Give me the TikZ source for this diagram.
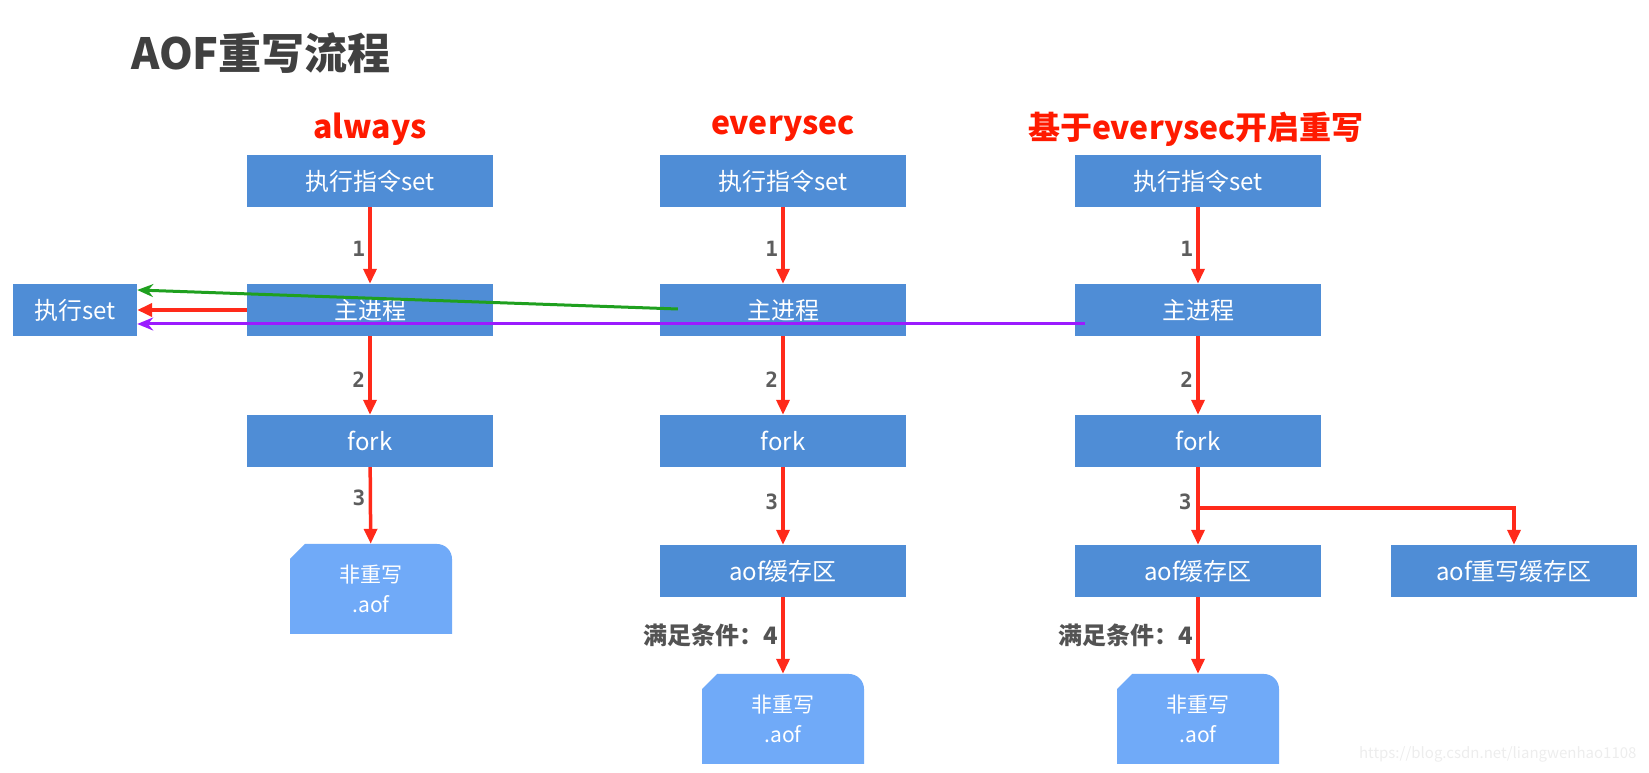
\documentclass[tikz,border=0pt]{standalone}
\usepackage{fontspec}
\setmainfont{Noto Sans CJK SC}
\newfontfamily\numfont{DejaVu Sans Mono}
\usepackage{xcolor}
\usetikzlibrary{arrows.meta}
\usetikzlibrary{positioning}

\definecolor{boxblue}{HTML}{4F8DD6}
\definecolor{docblue}{HTML}{70AAF8}
\definecolor{flowred}{HTML}{FF2A1A}
\definecolor{headred}{HTML}{FF1A00}
\definecolor{setgreen}{HTML}{1FA01F}
\definecolor{setpurple}{HTML}{9B1BFF}
\definecolor{titlegray}{HTML}{404040}

\begin{document}
\begin{tikzpicture}[x=1pt, y=1pt,
    every node/.style={font=\fontsize{24}{28}\selectfont},
    stepbox/.style={rectangle, fill=boxblue, text=white, minimum width=246pt, minimum height=52pt, inner sep=0pt},
    doc/.style={rectangle, text=white, align=center, minimum width=162pt, minimum height=90pt, inner sep=0pt,
      font=\fontsize{21}{30}\selectfont,
      path picture={\fill[docblue] (path picture bounding box.south west)
        -- ([yshift=-15pt]path picture bounding box.north west)
        -- ([xshift=15pt]path picture bounding box.north west)
        -- ([xshift=-15pt]path picture bounding box.north east)
        arc[start angle=90, end angle=0, radius=15pt]
        -- (path picture bounding box.south east) -- cycle;}},
    title/.style={font=\fontsize{43}{46}\selectfont\bfseries, text=titlegray},
    head/.style={font=\fontsize{32}{36}\selectfont\bfseries, text=headred},
    num/.style={font=\numfont\fontsize{21}{21}\bfseries\selectfont, text=titlegray!85},
    cond/.style={font=\fontsize{24}{26}\selectfont\bfseries, text=titlegray!90},
    flow/.style={draw=flowred, line width=3.5pt, -{Triangle[length=15pt, width=13pt]}},
    back/.style={line width=3pt, -{Stealth[length=16pt, width=13pt]}},
  ]
  \useasboundingbox (0,0) rectangle (1649,773);

  % Title and headers
  \node[title] (title) at (261, 720) {AOF重写流程};
  \node[head] (hA) at (370, 644) {always};
  \node[head] (hB) at (783, 644) {everysec};
  \node[head] (hC) at (1196, 644) {基于everysec开启重写};

  % always
  \node[stepbox] (setA)  at (370, 592) {执行指令set};
  \node[stepbox] (mainA) at (370, 463) {主进程};
  \node[stepbox] (forkA) at (370, 332) {fork};
  \node[doc]     (docA)  at (371, 184) {非重写\\.aof};

  % everysec
  \node[stepbox] (setB)  at (783, 592) {执行指令set};
  \node[stepbox] (mainB) at (783, 463) {主进程};
  \node[stepbox] (forkB) at (783, 332) {fork};
  \node[stepbox] (aofB)  at (783, 202) {aof缓存区};
  \node[doc]     (docB)  at (783, 54)  {非重写\\.aof};

  % everysec + rewrite
  \node[stepbox] (setC)  at (1198, 592) {执行指令set};
  \node[stepbox] (mainC) at (1198, 463) {主进程};
  \node[stepbox] (forkC) at (1198, 332) {fork};
  \node[stepbox] (aofC)  at (1198, 202) {aof缓存区};
  \node[stepbox] (rwC)   at (1514, 202) {aof重写缓存区};
  \node[doc]     (docC)  at (1198, 54)  {非重写\\.aof};

  % Executed command
  \node[stepbox, minimum width=124pt] (exec) at (75, 463) {执行set};

  % always arrows
  \draw[flow] (setA)  -- node[num, left, pos=0.55] (n1A) {1} (mainA);
  \draw[flow] (mainA) -- node[num, left, pos=0.55] (n2A) {2} (forkA);
  \draw[flow] (forkA) -- node[num, left, pos=0.4]  (n3A) {3} (docA);

  % everysec arrows
  \draw[flow] (setB)  -- node[num, left, pos=0.55] (n1B) {1} (mainB);
  \draw[flow] (mainB) -- node[num, left, pos=0.55] (n2B) {2} (forkB);
  \draw[flow] (forkB) -- node[num, left, pos=0.45] (n3B) {3} (aofB);
  \draw[flow] (aofB)  -- node[cond, left, inner sep=3pt] (c4B) {满足条件：4} (docB);

  % rewrite arrows
  \draw[flow] (setC)  -- node[num, left, pos=0.55] (n1C) {1} (mainC);
  \draw[flow] (mainC) -- node[num, left, pos=0.55] (n2C) {2} (forkC);
  \draw[flow] (forkC) -- (aofC);
  \coordinate (split) at (1198, 265);
  \node[num, anchor=east, xshift=-3pt, yshift=6pt] (n3C) at (split) {3};
  \draw[flow] (split) -| (rwC.north);
  \draw[flow] (aofC)  -- node[cond, left, inner sep=3pt] (c4C) {满足条件：4} (docC);

  % Writes back to the command
  \draw[flow, line width=4pt] (mainA.west) -- (exec.east);
  \draw[back, setgreen] ([xshift=18pt, yshift=1pt]mainB.west) -- ([yshift=20pt]exec.east);
  \draw[back, setpurple] ([xshift=10pt, yshift=-14pt]mainC.west) -- ([yshift=-14pt]exec.east);

  % Watermark
  \node[anchor=east, text=gray!14, font=\fontsize{15}{16}\selectfont] (wm) at (1640, 19) {https://blog.csdn.net/liangwenhao1108};
\end{tikzpicture}
\end{document}
